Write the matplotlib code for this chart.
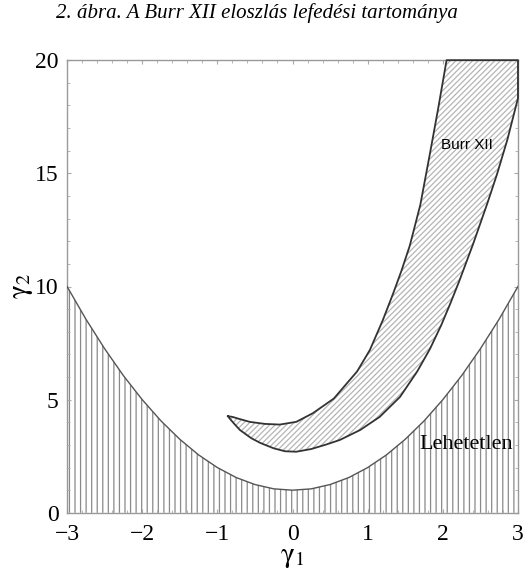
import numpy as np
import matplotlib
matplotlib.use("Agg")
import matplotlib.pyplot as plt
from matplotlib.ticker import MultipleLocator

plt.rcParams['font.family'] = ['Liberation Serif', 'DejaVu Serif']
plt.rcParams['mathtext.fontset'] = 'stix'
plt.rcParams['hatch.linewidth'] = 0.9

# lower bound of the possible region
bound_x = [-3.0, -2.75, -2.5, -2.25, -2.0, -1.75, -1.5, -1.25, -1.0, -0.75, -0.5, -0.25, 0.0,
           0.25, 0.5, 0.75, 1.0, 1.25, 1.5, 1.75, 2.0, 2.25, 2.5, 2.75, 3.0]
bound_y = [10.0, 8.56, 7.25, 6.06, 5.0, 4.06, 3.25, 2.56, 2.0, 1.56, 1.25, 1.06, 1.0,
           1.06, 1.25, 1.56, 2.0, 2.56, 3.25, 4.06, 5.0, 6.06, 7.25, 8.56, 10.0]

# Burr XII region, upper/left edge (from the tip up to the top of the plot)
burr_up_x = [-0.86, -0.80, -0.72, -0.57, -0.37, -0.17, 0.05, 0.27, 0.55, 0.86, 1.03,
             1.20, 1.34, 1.45, 1.56, 1.70, 1.83, 1.94, 2.05]
burr_up_y = [4.27, 4.24, 4.16, 4.02, 3.93, 3.90, 4.02, 4.40, 5.05, 6.25, 7.20,
             8.50, 9.70, 10.70, 11.80, 13.60, 15.90, 17.90, 20.0]

# Burr XII region, lower/right edge (from the tip to the right border)
burr_lo_x = [-0.86, -0.83, -0.78, -0.70, -0.55, -0.43, -0.25, -0.10, 0.05, 0.25, 0.45,
             0.63, 0.90, 1.16, 1.43, 1.66, 1.83, 1.98, 2.10, 2.22, 2.40, 2.59, 2.72,
             2.86, 3.0, 3.0]
burr_lo_y = [4.27, 4.14, 3.95, 3.66, 3.30, 3.09, 2.85, 2.72, 2.70, 2.82, 3.02,
             3.22, 3.66, 4.24, 5.12, 6.25, 7.25, 8.30, 9.25, 10.25, 11.85, 13.65, 14.95,
             16.5, 18.32, 20.0]

fig = plt.figure(figsize=(5.24, 5.73), dpi=100)
ax = fig.add_axes([0.128, 0.105, 0.8605, 0.790])

# impossible region
ax.fill_between(bound_x, 0, bound_y, facecolor='white', edgecolor='#8a8a8a',
                linewidth=0, hatch='|||', zorder=1)
ax.plot(bound_x, bound_y, color='#555555', lw=1.0, zorder=3)

# Burr XII region
poly_x = burr_up_x + burr_lo_x[::-1]
poly_y = burr_up_y + burr_lo_y[::-1]
ax.fill(poly_x, poly_y, facecolor='white', edgecolor='#b5b5b5', linewidth=0,
        hatch='//////', zorder=2)
ax.plot(poly_x + [poly_x[0]], poly_y + [poly_y[0]], color='#333333', lw=1.3,
        zorder=4, clip_on=False, solid_joinstyle='round')

ax.text(2.32, 16.25, 'Burr XII', family='Liberation Sans', fontsize=11,
        ha='center', va='center', zorder=5)
ax.text(2.31, 3.0, 'Lehetetlen', fontsize=16, ha='center', va='center', zorder=5)

ax.set_xlim(-3, 3)
ax.set_ylim(0, 20)
ax.set_xticks([-3, -2, -1, 0, 1, 2, 3])
ax.set_yticks([0, 5, 10, 15, 20])
ax.xaxis.set_minor_locator(MultipleLocator(0.2))
ax.yaxis.set_minor_locator(MultipleLocator(1))
ax.tick_params(which='both', direction='in', top=True, right=True,
               color='#aaaaaa', labelsize=17)
ax.tick_params(which='major', length=3)
ax.tick_params(which='minor', length=2)
ax.tick_params(axis='x', pad=8)
ax.tick_params(axis='y', pad=6)
for s in ax.spines.values():
    s.set_color('#9a9a9a')
    s.set_linewidth(1.0)

ax.set_xlabel(r'$\mathrm{\gamma}_1$', fontsize=21, labelpad=-1)
ax.set_ylabel(r'$\mathrm{\gamma}_2$', fontsize=21, labelpad=0)

fig.text(0.49, 0.977, '2. ábra. A Burr XII eloszlás lefedési tartománya',
         style='italic', fontsize=15, ha='center', va='center')

fig.savefig('out.png', dpi=100)
